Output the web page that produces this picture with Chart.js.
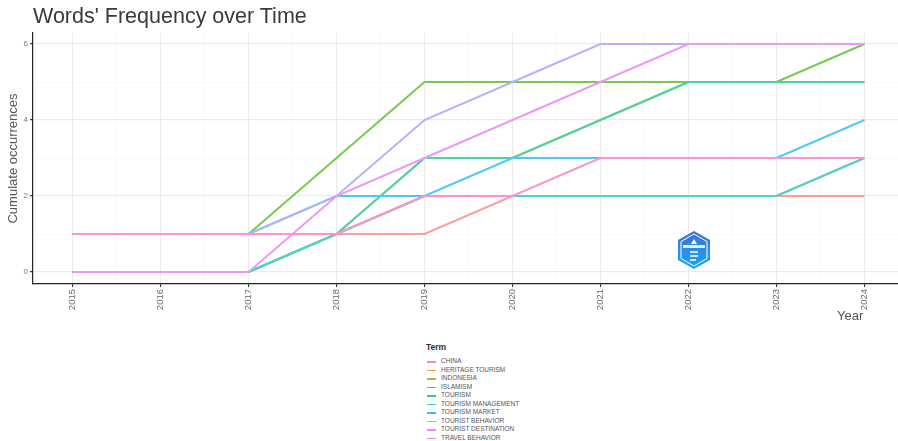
<!DOCTYPE html>
<html>
<head>
<meta charset="utf-8">
<script src="https://cdn.jsdelivr.net/npm/chart.js@4"></script>
<style>
  html, body { margin: 0; padding: 0; background: #fff; overflow: hidden; width: 898px; height: 441px; }
  body { position: relative; font-family: "Liberation Sans", Arial, sans-serif; }
  #wrap { position: absolute; left: 0; top: 0; width: 910px; height: 330px; }
  #title { position: absolute; left: 33px; top: 4px; font-size: 21.5px; color: #3a3a3a; white-space: nowrap; }
  #xtitle { position: absolute; left: 837px; top: 308px; font-size: 13px; color: #555; }
  #legend { position: absolute; left: 426px; top: 342px; font-size: 6.5px; color: #555; }
  #legend .ttl { font-size: 8.5px; font-weight: bold; color: #333; margin-bottom: 5px; }
  #legend .it { position: relative; height: 8.5px; line-height: 8.5px; white-space: nowrap; padding-left: 15px; }
  #legend .sw { position: absolute; left: 1px; top: 4px; width: 9px; height: 1.5px; }
  #logo { position: absolute; left: 676px; top: 230px; }
</style>
</head>
<body>
<div id="wrap"><canvas id="chartWords" width="910" height="330"></canvas></div>
<div id="title">Words' Frequency over Time</div>
<div id="xtitle">Year</div>
<div id="legend"></div>
<svg id="logo" width="36" height="40" viewBox="0 0 36 40">
  <defs>
    <linearGradient id="lg" x1="0" y1="0" x2="0" y2="1">
      <stop offset="0" stop-color="#3f6fd1"/>
      <stop offset="1" stop-color="#19a8f5"/>
    </linearGradient>
  </defs>
  <polygon points="18,1 34,10 34,30 18,39 2,30 2,10" fill="url(#lg)"/>
  <polygon points="18,4 31,11.5 31,28.5 18,36 5,28.5 5,11.5" fill="none" stroke="#fff" stroke-width="1"/>
  <polygon points="18,9 21,14 15,14" fill="#fff"/>
  <rect x="7" y="15" width="22" height="3" fill="#fff" opacity="0.85"/>
  <path d="M14 22 h8 M14 26 h8 M14 30 h6" stroke="#fff" stroke-width="1.6"/>
</svg>
<script>
var years = [2015, 2016, 2017, 2018, 2019, 2020, 2021, 2022, 2023, 2024];

var termNames = ["CHINA", "HERITAGE TOURISM", "INDONESIA", "ISLAMISM", "TOURISM",
  "TOURISM MANAGEMENT", "TOURISM MARKET", "TOURIST BEHAVIOR", "TOURIST DESTINATION", "TRAVEL BEHAVIOR"];

var china              = [1, 1, 1, 1, 1, 2, 2, 2, 2, 2];
var heritageTourism    = [0, 0, 0, 1, 2, 2, 2, 2, 2, 3];
var indonesia          = [0, 0, 0, 1, 3, 3, 4, 5, 5, 5];
var islamism           = [1, 1, 1, 3, 5, 5, 5, 5, 5, 6];
var tourism            = [0, 0, 0, 1, 3, 3, 4, 5, 5, 5];
var tourismManagement  = [0, 0, 0, 1, 2, 2, 2, 2, 2, 3];
var tourismMarket      = [1, 1, 1, 2, 2, 3, 3, 3, 3, 4];
var touristBehavior    = [1, 1, 1, 2, 4, 5, 6, 6, 6, 6];
var touristDestination = [0, 0, 0, 2, 3, 4, 5, 6, 6, 6];
var travelBehavior     = [1, 1, 1, 1, 2, 2, 3, 3, 3, 3];

var yTickLabels = [0, 2, 4, 6];

var termSeries = [china, heritageTourism, indonesia, islamism, tourism,
  tourismManagement, tourismMarket, touristBehavior, touristDestination, travelBehavior];
var termColors = ["#F8766D", "#D89000", "#A3A500", "#39B600", "#00BF7D",
  "#00BFC4", "#00B0F6", "#9590FF", "#E76BF3", "#FF62BC"];

// opaque colour washed towards white, so overlapping lines don't blend
function lighten(hex, a) {
  var r = parseInt(hex.substr(1, 2), 16), g = parseInt(hex.substr(3, 2), 16), b = parseInt(hex.substr(5, 2), 16);
  var f = function(c) { return Math.round(c * a + 255 * (1 - a)); };
  return 'rgb(' + f(r) + ',' + f(g) + ',' + f(b) + ')';
}

var datasets = termNames.map(function(name, i) {
  return {
    label: name,
    data: years.map(function(y, j) { return {x: y, y: termSeries[i][j]}; }),
    borderColor: lighten(termColors[i], 0.7),
    borderWidth: 2,
    pointRadius: 0,
    tension: 0,
    fill: false,
    order: termNames.length - i   // later terms on top, like ggplot
  };
});

// legend
var legendBox = document.getElementById('legend');
var html = '<div class="ttl">Term</div>';
termNames.forEach(function(name, i) {
  html += '<div class="it"><span class="sw" style="background:' + lighten(termColors[i], 0.8) + '"></span>' + name + '</div>';
});
legendBox.innerHTML = html;

function isWhole(v) { return Math.abs(v - Math.round(v)) < 1e-6; }

var ctx = document.getElementById('chartWords').getContext('2d');
var wordsChart = new Chart(ctx, {
  type: 'line',
  data: { datasets: datasets },
  options: {
    responsive: false,
    animation: false,
    layout: { padding: { top: 33, right: 6, left: 0, bottom: 0 } },
    plugins: { legend: { display: false }, tooltip: { enabled: false } },
    scales: {
      x: {
        type: 'linear',
        min: years[0] - 0.45,
        max: years[years.length - 1] + 0.45,
        afterBuildTicks: function(scale) {
          var t = [];
          for (var v = years[0]; v <= years[years.length - 1] + 1e-6; v += 0.5) t.push({value: v});
          scale.ticks = t;
        },
        afterFit: function(scale) { scale.height = 46; },
        ticks: {
          autoSkip: false,
          maxRotation: 90,
          minRotation: 90,
          padding: 2,
          color: '#6a6a6a',
          font: { size: 9.5, family: 'Liberation Sans' },
          callback: function(v) { return isWhole(v) ? String(Math.round(v)) : ''; }
        },
        grid: {
          color: function(c) { return isWhole(c.tick.value) ? '#ebebeb' : '#f4f4f4'; },
          lineWidth: function(c) { return isWhole(c.tick.value) ? 1.1 : 0.6; },
          tickColor: function(c) { return isWhole(c.tick.value) ? '#333' : 'rgba(0,0,0,0)'; },
          tickLength: 3
        },
        border: { display: true, color: '#222', width: 1.2 }
      },
      y: {
        type: 'linear',
        // 38 px per unit so the integer levels sit on whole pixels
        min: -12 / 38,
        max: 239 / 38,
        afterBuildTicks: function(scale) {
          var t = [];
          for (var v = 0; v <= 6; v++) t.push({value: v});
          scale.ticks = t;
        },
        afterFit: function(scale) { scale.width = 33; },
        ticks: {
          padding: 2,
          color: '#777',
          font: { size: 8, family: 'Liberation Sans' },
          callback: function(v) { return yTickLabels.indexOf(v) >= 0 ? String(v) : ''; }
        },
        grid: {
          color: function(c) { return yTickLabels.indexOf(c.tick.value) >= 0 ? '#ebebeb' : '#f4f4f4'; },
          lineWidth: function(c) { return yTickLabels.indexOf(c.tick.value) >= 0 ? 1.3 : 0.6; },
          tickColor: function(c) { return yTickLabels.indexOf(c.tick.value) >= 0 ? '#333' : 'rgba(0,0,0,0)'; },
          tickLength: 3
        },
        border: { display: true, color: '#222', width: 1.2 },
        title: {
          display: true,
          text: 'Cumulate occurrences',
          color: '#555',
          padding: { top: 6, bottom: 0 },
          font: { size: 13, family: 'Liberation Sans', weight: 'normal' }
        }
      }
    }
  }
});
</script>
</body>
</html>
